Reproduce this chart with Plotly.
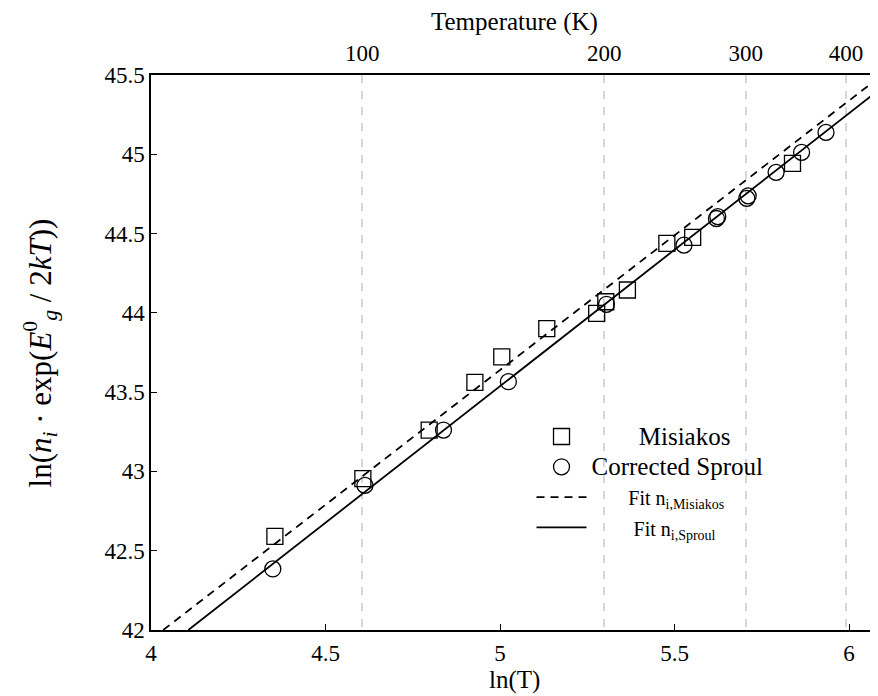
import numpy as np
import plotly.graph_objects as go

# Misiakos data (ln T, ln(ni*exp(Eg/2kT)))
mis_lnT = [4.355, 4.607, 4.797, 4.928, 5.005, 5.134, 5.277, 5.303, 5.365, 5.478, 5.552, 5.838]
mis_val = [42.59, 42.954, 43.261, 43.562, 43.723, 43.90, 43.997, 44.07, 44.144, 44.438, 44.476, 44.943]

# Corrected Sproul data
spr_lnT = [4.349, 4.613, 4.838, 5.024, 5.305, 5.527, 5.620, 5.624, 5.707, 5.711, 5.791, 5.864, 5.934]
spr_val = [42.385, 42.912, 43.261, 43.566, 44.054, 44.427, 44.595, 44.607, 44.722, 44.738, 44.886, 45.012, 45.138]

# Fit line endpoints
fit_mis_x = [4.035, 6.085]
fit_mis_y = [42.0, 45.483]
fit_spr_x = [4.107, 6.085]
fit_spr_y = [42.0, 45.405]

# Axis ticks
x_ticks = [4, 4.5, 5, 5.5, 6]
x_ticktext = ["4", "4.5", "5", "5.5", "6"]
y_ticks = [42, 42.5, 43, 43.5, 44, 44.5, 45, 45.5]
y_ticktext = ["42", "42.5", "43", "43.5", "44", "44.5", "45", "45.5"]
temp_ticks = [100, 200, 300, 400]

FONT = "Liberation Serif"
XR = [4.0, 6.083]
NB = "\u00a0"

fig = go.Figure()

fig.add_trace(go.Scatter(
    x=mis_lnT, y=mis_val, mode="markers", name=NB * 9 + "<span style='font-size:25px'>Misiakos</span>",
    marker=dict(symbol="square-open", size=16, color="black", line=dict(width=1.3, color="black")),
))
fig.add_trace(go.Scatter(
    x=spr_lnT, y=spr_val, mode="markers", name="<span style='font-size:25px'>Corrected Sproul</span>",
    marker=dict(symbol="circle-open", size=16, color="black", line=dict(width=1.3, color="black")),
))
fig.add_trace(go.Scatter(
    x=fit_mis_x, y=fit_mis_y, mode="lines",
    name=NB * 7 + "<span style='font-size:20px'>Fit n<sub>i,Misiakos</sub></span>",
    line=dict(color="black", width=1.8, dash="8px,6px"),
))
fig.add_trace(go.Scatter(
    x=fit_spr_x, y=fit_spr_y, mode="lines",
    name=NB * 8 + "<span style='font-size:20px'>Fit n<sub>i,Sproul</sub></span>",
    line=dict(color="black", width=1.8),
))
# invisible trace to activate top axis
fig.add_trace(go.Scatter(
    x=[float(np.log(t)) for t in temp_ticks], y=[42, 42, 42, 42], xaxis="x2",
    mode="markers", marker=dict(opacity=0), showlegend=False, hoverinfo="skip",
))

fig.update_layout(
    width=878, height=696,
    margin=dict(l=143, r=8, t=67, b=74, autoexpand=False),
    paper_bgcolor="white", plot_bgcolor="white",
    font=dict(family=FONT, size=23, color="black"),
    showlegend=True,
    legend=dict(
        x=0.5234, y=0.385, xanchor="left", yanchor="top",
        bgcolor="rgba(0,0,0,0)", borderwidth=0,
        font=dict(family=FONT, size=21, color="black"),
        itemwidth=50, tracegroupgap=0,
    ),
    xaxis=dict(
        range=XR, tickvals=x_ticks, ticktext=x_ticktext,
        showline=True, linecolor="black", linewidth=1.5,
        ticks="inside", ticklen=6, tickcolor="black",
        showgrid=False, zeroline=False, mirror=False, automargin=False,
        ticklabelstandoff=2, tickfont=dict(size=23),
    ),
    xaxis2=dict(
        range=XR, overlaying="x", side="top",
        tickvals=[float(np.log(t)) for t in temp_ticks],
        ticktext=[str(t) for t in temp_ticks],
        showline=True, linecolor="black", linewidth=1.5,
        ticks="", showgrid=True, gridcolor="#d6d6d6", gridwidth=1.5, griddash="8px,8px",
        zeroline=False, automargin=False, ticklabelstandoff=3,
        tickfont=dict(size=23),
    ),
    yaxis=dict(
        range=[42, 45.5], tickvals=y_ticks, ticktext=y_ticktext,
        showline=True, linecolor="black", linewidth=1.5,
        ticks="inside", ticklen=6, tickcolor="black",
        showgrid=False, zeroline=False, mirror=False, automargin=False,
        tickfont=dict(size=23),
    ),
    annotations=[
        dict(text="ln(T)", xref="paper", yref="paper", x=0.5, y=-0.0905,
             xanchor="center", yanchor="middle", showarrow=False, font=dict(size=25)),
        dict(text="Temperature (K)", xref="paper", yref="paper", x=0.5, y=1.0955,
             xanchor="center", yanchor="middle", showarrow=False, font=dict(size=25)),
        dict(text="ln(<i>n</i><sub><i>i</i></sub> · exp(<i>E</i><sup>0</sup><sub><i>g</i></sub> / 2<i>kT</i>))",
             xref="paper", yref="paper", x=-0.1527, y=0.5, textangle=-90,
             xanchor="center", yanchor="middle", showarrow=False, font=dict(size=31)),
    ],
)

fig.write_html("out.html")
